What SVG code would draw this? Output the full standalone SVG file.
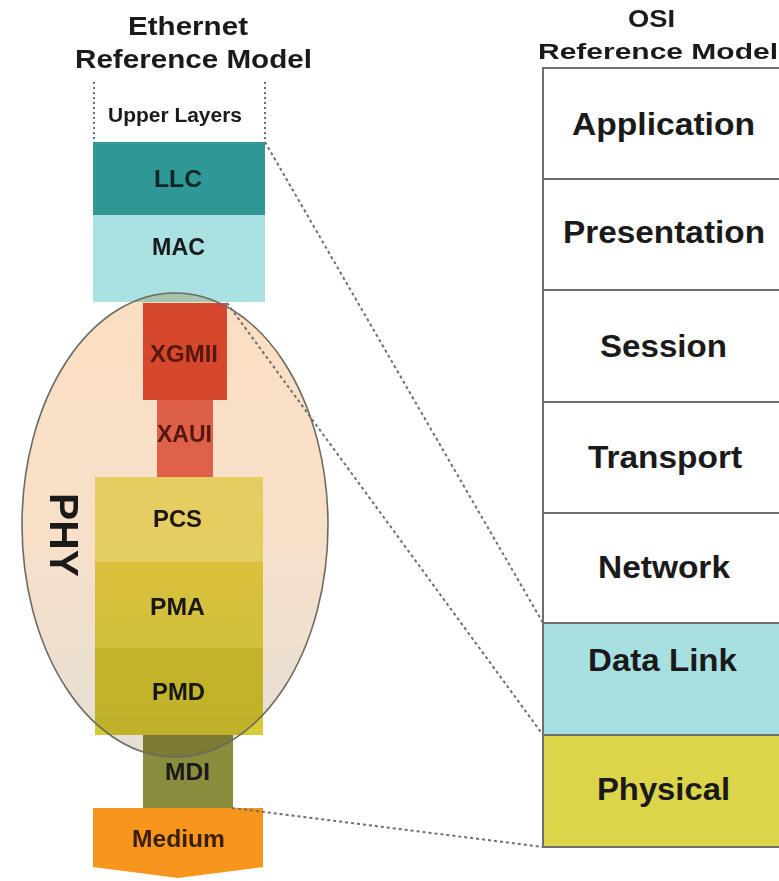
<svg xmlns="http://www.w3.org/2000/svg" width="779" height="881" viewBox="0 0 779 881">
<defs>
<linearGradient id="phyGrad" x1="0" y1="0" x2="0" y2="1">
<stop offset="0" stop-color="#fadec3"/>
<stop offset="0.5" stop-color="#f8e0c8"/>
<stop offset="1" stop-color="#e4ded4"/>
</linearGradient>
<style>
text{font-family:"Liberation Sans",Arial,sans-serif;font-weight:bold;fill:#1a1a1a}
.t{font-size:26px}
.lbl{font-size:23px}
.osi{font-size:32px}
.dot{fill:none;stroke:#6e6e6e;stroke-width:2;stroke-dasharray:3 3}
.row{stroke:#6e6e6e;stroke-width:2}
</style>
</defs>
<rect width="779" height="881" fill="#ffffff"/>

<g id="titles">
<text class="t" x="128" y="35" textLength="120" lengthAdjust="spacingAndGlyphs">Ethernet</text>
<text class="t" x="75" y="68" textLength="237" lengthAdjust="spacingAndGlyphs">Reference Model</text>
<text style="font-size:23px" x="628" y="27" textLength="47" lengthAdjust="spacingAndGlyphs">OSI</text>
<text style="font-size:22px" x="538" y="59" textLength="240" lengthAdjust="spacingAndGlyphs">Reference Model</text>
</g>

<g id="upper-layers">
<line class="dot" x1="94" y1="82" x2="94" y2="142" style="stroke-dasharray:2 3"/>
<line class="dot" x1="265" y1="82" x2="265" y2="142" style="stroke-dasharray:2 3"/>
<text style="font-size:20px" x="108" y="122" textLength="134" lengthAdjust="spacingAndGlyphs">Upper Layers</text>
</g>

<g id="llc">
<rect x="93" y="142" width="172" height="73" fill="#309797"/>
<text class="lbl" x="154" y="187" textLength="48" lengthAdjust="spacingAndGlyphs" style="fill:#0f2626">LLC</text>
</g>
<g id="mac">
<rect x="93" y="215" width="172" height="87" fill="#a9e0e2"/>
<text class="lbl" x="152" y="255" textLength="53" lengthAdjust="spacingAndGlyphs">MAC</text>
</g>
<g id="xgmii">
<rect x="143" y="303" width="84" height="97" fill="#da523b"/>
<text class="lbl" x="150" y="362" textLength="68" lengthAdjust="spacingAndGlyphs" style="fill:#5a1a10">XGMII</text>
</g>
<g id="xaui">
<rect x="157" y="400" width="56" height="77" fill="#e56e5d"/>
<text class="lbl" x="157" y="442" textLength="55" lengthAdjust="spacingAndGlyphs" style="fill:#5a1a10">XAUI</text>
</g>
<g id="pcs">
<rect x="95" y="477" width="168" height="85" fill="#ecea7c"/>
<text class="lbl" x="153" y="527" textLength="49" lengthAdjust="spacingAndGlyphs">PCS</text>
</g>
<g id="pma">
<rect x="95" y="562" width="168" height="86" fill="#e2dc4a"/>
<text class="lbl" x="150" y="615" textLength="55" lengthAdjust="spacingAndGlyphs">PMA</text>
</g>
<g id="pmd">
<rect x="95" y="648" width="168" height="87" fill="#d3cd33"/>
<text class="lbl" x="152" y="700" textLength="53" lengthAdjust="spacingAndGlyphs">PMD</text>
</g>
<g id="mdi">
<rect x="143" y="735" width="90" height="74" fill="#8a8c3e"/>
<text class="lbl" x="165" y="780" textLength="45" lengthAdjust="spacingAndGlyphs">MDI</text>
</g>
<g id="medium">
<polygon points="93,808 263,808 263,867 178,878 93,867" fill="#f7951c"/>
<text class="lbl" x="132" y="847" textLength="93" lengthAdjust="spacingAndGlyphs" style="fill:#3a1f05">Medium</text>
</g>

<g id="phy">
<ellipse cx="175" cy="525" rx="153" ry="232" fill="url(#phyGrad)" style="mix-blend-mode:multiply"/>
<ellipse cx="175" cy="525" rx="153" ry="232" fill="none" stroke="#6b6b60" stroke-width="1.6"/>
<text transform="translate(50,535) rotate(90)" x="0" y="0" text-anchor="middle" style="font-size:41px" textLength="84" lengthAdjust="spacingAndGlyphs">PHY</text>
</g>

<g id="osi">
<g id="osi-application">
<rect x="543" y="68" width="260" height="111" fill="#ffffff" class="row"/>
<text class="osi" x="572" y="135" textLength="183" lengthAdjust="spacingAndGlyphs">Application</text>
</g>
<g id="osi-presentation">
<rect x="543" y="179" width="260" height="111" fill="#ffffff" class="row"/>
<text class="osi" x="563" y="243" textLength="202" lengthAdjust="spacingAndGlyphs">Presentation</text>
</g>
<g id="osi-session">
<rect x="543" y="290" width="260" height="112" fill="#ffffff" class="row"/>
<text class="osi" x="600" y="357" textLength="127" lengthAdjust="spacingAndGlyphs">Session</text>
</g>
<g id="osi-transport">
<rect x="543" y="402" width="260" height="111" fill="#ffffff" class="row"/>
<text class="osi" x="588" y="468" textLength="154" lengthAdjust="spacingAndGlyphs">Transport</text>
</g>
<g id="osi-network">
<rect x="543" y="513" width="260" height="110" fill="#ffffff" class="row"/>
<text class="osi" x="598" y="578" textLength="132" lengthAdjust="spacingAndGlyphs">Network</text>
</g>
<g id="osi-datalink">
<rect x="543" y="623" width="260" height="112" fill="#a8e0e2" class="row"/>
<text class="osi" x="588" y="671" textLength="149" lengthAdjust="spacingAndGlyphs">Data Link</text>
</g>
<g id="osi-physical">
<rect x="543" y="735" width="260" height="112" fill="#dcd54a" class="row"/>
<text class="osi" x="597" y="800" textLength="133" lengthAdjust="spacingAndGlyphs">Physical</text>
</g>
</g>

<g id="connectors">
<line class="dot" x1="265" y1="142" x2="543" y2="623"/>
<line class="dot" x1="227" y1="303" x2="543" y2="735"/>
<line class="dot" x1="232" y1="808" x2="543" y2="847"/>
</g>
</svg>
